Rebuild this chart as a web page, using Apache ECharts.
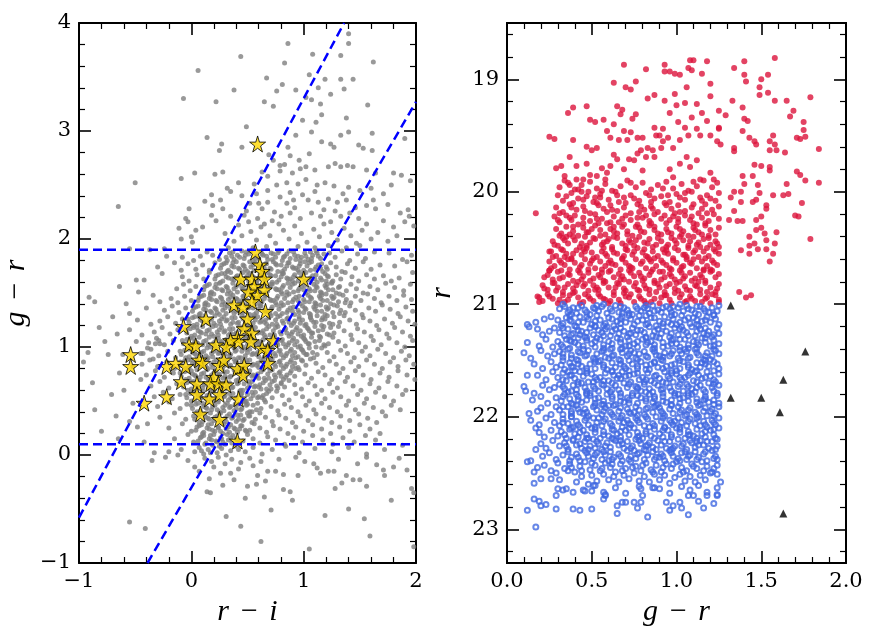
<!DOCTYPE html>
<html>
<head>
<meta charset="utf-8">
<script src="https://cdn.jsdelivr.net/npm/echarts@6/dist/echarts.min.js"></script>
<style>
  html, body { margin: 0; background: #fff; }
  #chart { width: 872px; height: 640px; }
</style>
</head>
<body>
<div id="chart"></div>
<script>
// left panel: field stars, [r-i, g-r] in hundredths
var grayPts = [
  // above the upper colour cut
  [140,390],[140,381],[86,381],[44,369],[108,371],[133,370],[162,364],[83,363],[6,356],[67,349],[119,348],[133,348],[144,348],[105,352],[81,343],[93,338],[38,338],[76,337],[113,340],[136,339],[-7,330],[22,327],[65,327],[73,323],[102,331],[107,329],[115,325],[124,334],[157,324],[116,315],[138,312],[99,310],[111,308],[49,304],[14,294],[93,296],[107,299],[116,290],[124,288],[133,296],[140,299],[161,298],[190,293],[27,288],[25,282],[45,285],[86,285],[105,279],[127,285],[149,287],[153,284],[161,282],[69,278],[73,273],[79,268],[83,269],[88,277],[96,273],[-9,256],[3,261],[-50,252],[21,260],[28,262],[63,262],[68,258],[79,263],[90,261],[97,265],[102,267],[110,264],[122,267],[128,270],[133,267],[139,268],[144,267],[156,264],[164,261],[180,261],[187,259],[195,254],[42,252],[35,244],[56,251],[68,245],[76,250],[85,252],[95,251],[102,255],[112,250],[119,252],[127,249],[140,248],[150,245],[171,242],[-65,230],[18,241],[26,236],[19,231],[28,228],[52,233],[60,233],[68,234],[79,239],[85,233],[91,236],[99,241],[104,236],[113,234],[122,237],[130,234],[138,236],[156,231],[164,228],[193,227],[194,221],[190,216],[-5,219],[-3,216],[10,211],[4,208],[-11,210],[22,217],[35,221],[47,222],[51,216],[59,219],[65,214],[72,217],[80,221],[88,224],[97,219],[107,224],[115,221],[124,216],[133,221],[141,224],[149,219],[156,214],[171,217],[180,211],[0,202],[1,197],[-9,200],[-24,191],[-37,190],[-55,191],
  [30,205],[38,198],[45,203],[53,207],[58,199],[62,211],[70,203],[75,196],[82,208],[87,200],[92,212],[98,205],[103,197],[109,209],[114,202],[118,214],[125,206],[130,199],[136,210],[142,203],[147,196],[152,208],[160,200],[166,206],[175,198],[183,203],[42,213],[55,192],[67,193],[78,214],[95,193],[110,192],[122,194],[138,192],[150,194],[33,192],[49,226],[63,228],[74,225],[92,229],[118,227],[128,226],[146,229],[162,236],[175,232],[186,224],[45,240],[58,242],[88,243],[110,244],[135,242],[160,247],[178,250],[32,247],[18,222],[12,235],[-2,228],[198,212],
  // main cloud
  [31,183],[34,187],[38,181],[41,185],[45,189],[47,182],[51,186],[55,180],[58,184],[62,188],[64,185],[68,181],[71,187],[75,183],[78,189],[81,180],[85,186],[88,182],[91,188],[95,184],[98,183],[101,187],[104,181],[108,185],[111,189],[115,182],[118,186],[2,180],[8,184],[14,188],[19,185],[25,181],[123,187],[128,183],[134,189],[141,180],[148,186],[155,182],[163,188],[-22,184],[-8,183],[176,187],[188,181],[196,185],[36,184],[49,188],[60,182],[73,186],[83,184],[93,181],[106,188],[113,184],
  [26,173],[29,177],[33,171],[36,175],[40,179],[43,172],[46,176],[50,170],[53,174],[57,178],[60,175],[63,171],[67,177],[70,173],[73,179],[77,170],[80,176],[83,172],[87,178],[90,174],[93,173],[97,177],[100,171],[103,175],[107,179],[110,172],[113,176],[117,170],[120,174],[124,178],[31,178],[38,174],[48,172],[55,176],[65,173],[75,177],[85,175],[95,171],[105,178],[115,173],[-3,177],[4,172],[10,176],[16,171],[21,178],[129,174],[134,170],[139,177],[146,173],[153,179],[160,172],[168,176],[-30,174],[-15,178],[-9,171],[181,175],[192,179],
  [21,163],[24,167],[28,161],[31,165],[35,169],[38,162],[41,166],[45,160],[48,164],[52,168],[55,165],[58,161],[62,167],[65,163],[68,169],[72,160],[75,166],[78,162],[82,168],[85,164],[88,163],[92,167],[95,161],[98,165],[102,169],[105,162],[108,166],[112,160],[115,164],[119,168],[122,165],[126,161],[129,167],[27,168],[33,164],[43,162],[50,166],[60,163],[70,167],[80,165],[90,161],[100,168],[110,163],[120,161],[-8,165],[-2,161],[5,167],[11,163],[16,169],[133,163],[137,169],[143,165],[149,161],[156,167],[163,163],[171,166],[178,161],[-42,162],[-26,168],[185,164],[197,169],
  [11,153],[14,157],[18,151],[21,155],[25,159],[28,152],[31,156],[35,150],[38,154],[42,158],[45,155],[48,151],[52,157],[55,153],[58,159],[62,150],[65,156],[68,152],[72,158],[75,154],[78,153],[82,157],[85,151],[88,155],[92,159],[95,152],[98,156],[102,150],[105,154],[109,158],[112,155],[115,151],[119,157],[122,153],[125,159],[129,150],[132,156],[16,158],[23,154],[33,152],[40,156],[50,153],[60,157],[70,155],[80,151],[90,158],[100,153],[110,152],[120,155],[-13,154],[-7,158],[-1,152],[4,156],[138,152],[142,158],[147,154],[153,150],[159,156],[166,153],[173,159],[181,155],[-64,156],[-49,162],[-47,151],[-34,148],[189,152],[195,158],
  [6,143],[9,147],[13,141],[16,145],[20,149],[23,142],[26,146],[30,140],[33,144],[37,148],[40,145],[43,141],[47,147],[50,143],[53,149],[57,140],[60,146],[63,142],[67,148],[70,144],[73,143],[77,147],[80,141],[83,145],[87,149],[90,142],[93,146],[97,140],[100,144],[104,148],[107,145],[110,141],[114,147],[117,143],[120,149],[124,140],[127,146],[131,142],[135,148],[138,144],[11,148],[18,144],[28,142],[35,146],[45,143],[55,147],[65,145],[75,141],[85,148],[95,143],[105,142],[115,145],[125,147],[-18,145],[-12,141],[-6,147],[0,143],[142,141],[146,147],[151,143],[157,149],[163,145],[169,141],[176,147],[183,143],[189,148],[-91,146],[-86,142],[-28,142],[196,144],
  [1,133],[4,137],[8,131],[11,135],[15,139],[18,132],[21,136],[25,130],[28,134],[32,138],[35,135],[38,131],[42,137],[45,133],[48,139],[52,130],[55,136],[58,132],[62,138],[65,134],[68,133],[72,137],[75,131],[78,135],[82,139],[85,132],[88,136],[92,130],[95,134],[99,138],[102,135],[105,131],[109,137],[112,133],[115,139],[119,130],[122,136],[126,132],[130,138],[133,134],[6,138],[13,134],[23,132],[30,136],[40,133],[50,137],[60,135],[70,131],[80,138],[90,133],[100,132],[110,135],[120,137],[-24,134],[-17,138],[-11,132],[-5,136],[137,132],[141,138],[146,134],[152,130],[158,136],[164,133],[170,139],[177,135],[184,131],[191,137],[-40,136],[-55,131],[197,133],
  [-2,123],[1,127],[5,121],[8,125],[12,129],[15,122],[18,126],[22,120],[25,124],[29,128],[32,125],[35,121],[39,127],[42,123],[45,129],[49,120],[52,126],[55,122],[59,128],[62,124],[65,123],[69,127],[72,121],[75,125],[79,129],[82,122],[85,126],[89,120],[92,124],[96,128],[99,125],[102,121],[106,127],[109,123],[112,129],[116,120],[119,126],[123,122],[127,128],[3,128],[10,124],[20,122],[27,126],[37,123],[47,127],[57,125],[67,121],[77,128],[87,123],[97,122],[107,125],[117,127],[-28,124],[-21,128],[-14,122],[-8,126],[132,123],[136,129],[141,125],[147,121],[153,127],[159,124],[165,120],[172,126],[179,122],[186,128],[193,124],[199,121],[-48,125],[-36,121],
  [-4,113],[-1,117],[3,111],[6,115],[10,119],[13,112],[16,116],[20,110],[23,114],[27,118],[30,115],[33,111],[37,117],[40,113],[43,119],[47,110],[50,116],[53,112],[57,118],[60,114],[63,113],[67,117],[70,111],[73,115],[77,119],[80,112],[83,116],[87,110],[90,114],[94,118],[97,115],[100,111],[104,117],[107,113],[110,119],[114,110],[117,116],[121,112],[124,118],[2,118],[8,114],[18,112],[25,116],[35,113],[45,117],[55,115],[65,111],[75,118],[85,113],[95,112],[105,115],[-33,114],[-26,118],[-19,112],[-12,116],[127,113],[131,119],[136,115],[142,111],[148,117],[154,114],[160,110],[167,116],[174,112],[181,118],[188,114],[195,110],[-55,116],[-44,111],
  [-7,103],[-4,107],[0,101],[3,105],[7,109],[10,102],[13,106],[17,100],[20,104],[24,108],[27,105],[30,101],[34,107],[37,103],[40,109],[44,100],[47,106],[50,102],[54,108],[57,104],[60,103],[64,107],[67,101],[70,105],[74,109],[77,102],[80,106],[84,100],[87,104],[91,108],[94,105],[97,101],[101,107],[104,103],[107,109],[111,100],[114,106],[118,102],[-1,108],[5,104],[15,102],[22,106],[32,103],[42,107],[52,105],[62,101],[72,108],[82,103],[92,102],[102,105],[-38,104],[-31,108],[-24,102],[-16,106],[122,103],[126,109],[131,105],[137,101],[143,107],[149,104],[155,100],[162,106],[169,102],[176,108],[183,104],[190,100],[197,106],[-49,105],[-28,103],
  [-9,93],[-6,97],[-2,91],[1,95],[5,99],[8,92],[11,96],[15,90],[18,94],[22,98],[25,95],[28,91],[32,97],[35,93],[38,99],[42,90],[45,96],[48,92],[52,98],[55,94],[58,93],[62,97],[65,91],[68,95],[72,99],[75,92],[78,96],[82,90],[85,94],[89,98],[92,95],[95,91],[99,97],[102,93],[105,99],[109,90],[-3,98],[3,94],[13,92],[20,96],[30,93],[40,97],[50,95],[60,91],[70,98],[80,93],[90,92],[100,95],[-43,94],[-36,98],[-29,92],[-21,96],[-14,90],[112,93],[116,99],[121,95],[127,91],[133,97],[139,94],[145,90],[152,96],[159,92],[166,98],[173,94],[180,90],[187,96],[194,92],
  [-9,83],[-6,87],[-2,81],[1,85],[5,89],[8,82],[11,86],[15,80],[18,84],[22,88],[25,85],[28,81],[32,87],[35,83],[38,89],[42,80],[45,86],[48,82],[52,88],[55,84],[58,83],[62,87],[65,81],[68,85],[72,89],[75,82],[78,86],[82,80],[85,84],[89,88],[92,85],[95,81],[99,87],[-3,88],[3,84],[13,82],[20,86],[30,83],[40,87],[50,85],[60,81],[70,88],[80,83],[90,82],[-44,84],[-37,88],[-30,82],[-22,86],[-15,80],[102,83],[106,89],[111,85],[117,81],[123,87],[129,84],[135,80],[142,86],[149,82],[156,88],[163,84],[170,80],[177,86],[184,82],[191,88],[198,84],
  [-9,73],[-6,77],[-2,71],[1,75],[5,79],[8,72],[11,76],[15,70],[18,74],[22,78],[25,75],[28,71],[32,77],[35,73],[38,79],[42,70],[45,76],[48,72],[52,78],[55,74],[58,73],[62,77],[65,71],[68,75],[72,79],[75,72],[78,76],[82,70],[85,74],[89,78],[-3,78],[3,74],[13,72],[20,76],[30,73],[40,77],[50,75],[60,71],[70,78],[80,73],[-40,74],[-32,78],[-24,72],[-16,76],[92,73],[96,79],[101,75],[107,71],[113,77],[119,74],[125,70],[132,76],[139,72],[146,78],[153,74],[160,70],[168,76],[176,72],[184,78],[192,74],[199,70],
  [-7,63],[-4,67],[0,61],[3,65],[7,69],[10,62],[13,66],[17,60],[20,64],[24,68],[27,65],[30,61],[34,67],[37,63],[40,69],[44,60],[47,66],[50,62],[54,68],[57,64],[60,63],[64,67],[67,61],[70,65],[74,69],[77,62],[80,66],[-1,68],[5,64],[15,62],[22,66],[32,63],[42,67],[52,65],[62,61],[72,68],[-36,64],[-28,68],[-20,62],[-13,66],[83,63],[87,69],[92,65],[98,61],[104,67],[110,64],[116,60],[123,66],[130,62],[137,68],[144,64],[151,60],[159,66],[167,62],[175,68],[183,64],[191,60],
  [-4,53],[-1,57],[3,51],[6,55],[10,59],[13,52],[16,56],[20,50],[23,54],[27,58],[30,55],[33,51],[37,57],[40,53],[43,59],[47,50],[50,56],[53,52],[57,58],[60,54],[63,53],[67,57],[2,58],[8,54],[18,52],[25,56],[35,53],[45,57],[55,55],[65,51],[-33,54],[-25,58],[-17,52],[-10,56],[72,53],[76,59],[81,55],[87,51],[93,57],[99,54],[105,50],[112,56],[119,52],[126,58],[133,54],[140,50],[148,56],[156,52],[164,58],[172,54],[180,50],[188,56],
  [1,43],[4,47],[8,41],[11,45],[15,49],[18,42],[21,46],[25,40],[28,44],[32,48],[35,45],[38,41],[42,47],[45,43],[48,49],[52,40],[55,46],[58,42],[6,48],[13,44],[23,42],[30,46],[40,43],[50,47],[-30,45],[-20,49],[-10,43],[-4,47],[62,43],[66,49],[71,45],[77,41],[83,47],[89,44],[95,40],[102,46],[109,42],[116,48],[123,44],[130,40],[138,46],[146,42],[154,48],[162,44],[170,40],[178,46],[186,42],
  [3,33],[6,37],[10,31],[13,35],[17,39],[20,32],[23,36],[27,30],[30,34],[34,38],[37,35],[40,31],[44,37],[47,33],[50,39],[54,30],[8,38],[15,34],[25,32],[32,36],[42,33],[52,36],[-28,35],[-15,39],[-5,33],[57,33],[61,39],[66,35],[72,31],[78,37],[84,34],[90,30],[97,36],[104,32],[111,38],[118,34],[125,30],[133,36],[141,32],[149,38],[157,34],[165,30],[173,36],
  [4,23],[7,27],[11,21],[14,25],[18,29],[21,22],[24,26],[28,20],[31,24],[35,28],[38,25],[41,21],[45,27],[48,23],[9,28],[16,24],[26,22],[33,26],[43,24],[-20,25],[-8,29],[0,22],[52,23],[56,29],[61,25],[67,21],[73,27],[79,24],[86,20],[93,26],[100,22],[108,28],[116,24],[124,20],[132,26],[141,22],[150,28],[159,24],[168,20],
  [6,13],[9,17],[13,11],[16,15],[20,19],[23,12],[26,16],[30,10],[33,14],[37,18],[40,15],[43,11],[11,18],[18,14],[28,12],[35,16],[-15,15],[-3,19],[2,12],[46,13],[50,19],[55,15],[61,11],[68,17],[75,14],[83,10],[91,16],[99,12],[108,18],[117,14],[126,10],[135,16],[145,12],[155,18],[164,14],
  [3,3],[7,7],[11,1],[15,5],[19,9],[23,2],[27,6],[31,0],[35,4],[39,8],[42,5],[9,4],[17,2],[25,8],[-9,5],[48,3],[55,7],[63,1],[72,5],[84,8],[96,2],[110,6],[125,3],[140,7],[156,1],[172,5],[188,9],
  // core of the cloud, second pass
  [32,180],[37,188],[43,183],[48,185],[53,189],[57,182],[63,186],[67,184],[72,181],[77,187],[82,183],[87,189],[92,185],[97,180],[102,184],[107,182],[112,187],
  [27,176],[32,170],[37,178],[42,173],[47,175],[52,179],[56,171],[61,174],[66,177],[71,172],[76,176],[81,170],[86,178],[91,173],[96,175],[101,179],[106,171],[111,174],[116,177],[121,172],
  [22,166],[26,160],[30,168],[36,163],[40,165],[46,169],[51,161],[56,164],[61,167],[66,162],[71,166],[76,160],[81,168],[86,163],[91,165],[96,169],[101,161],[106,164],[111,167],[116,162],[121,166],[125,160],
  [12,156],[17,150],[22,158],[27,153],[32,155],[37,159],[41,151],[46,154],[51,157],[56,152],[61,156],[66,150],[71,158],[76,153],[81,155],[86,159],[91,151],[96,154],[101,157],[106,152],[111,156],[116,150],[121,158],[126,153],[131,155],
  [7,146],[12,140],[17,148],[22,143],[27,145],[32,149],[36,141],[41,144],[46,147],[51,142],[56,146],[61,140],[66,148],[71,143],[76,145],[81,149],[86,141],[91,144],[96,147],[101,142],[106,146],[111,140],[116,148],[121,143],[126,145],[132,149],[137,141],
  [2,136],[7,130],[12,138],[17,133],[22,135],[27,139],[31,131],[36,134],[41,137],[46,132],[51,136],[56,130],[61,138],[66,133],[71,135],[76,139],[81,131],[86,134],[91,137],[96,132],[101,136],[106,130],[111,138],[116,133],[121,135],[127,139],[132,131],
  [-3,126],[2,120],[7,128],[11,123],[16,125],[21,129],[26,121],[31,124],[36,127],[41,122],[46,126],[51,120],[56,128],[61,123],[66,125],[71,129],[76,121],[81,124],[86,127],[91,122],[96,126],[101,120],[106,128],[111,123],[116,125],[121,129],[126,121],
  [-5,116],[0,110],[5,118],[9,113],[14,115],[19,119],[24,111],[29,114],[34,117],[39,112],[44,116],[49,110],[54,118],[59,113],[64,115],[69,119],[74,111],[79,114],[84,117],[89,112],[93,116],[98,110],[103,118],[108,113],[113,115],[118,119],[123,111],
  [-8,106],[-3,100],[2,108],[6,103],[11,105],[16,109],[21,101],[26,104],[31,107],[36,102],[41,106],[46,100],[51,108],[56,103],[61,105],[66,109],[71,101],[76,104],[81,107],[86,102],[90,106],[95,100],[100,108],[105,103],[110,105],[115,109],[119,101],
  [-10,96],[-5,90],[0,98],[4,93],[9,95],[14,99],[19,91],[24,94],[29,97],[34,92],[39,96],[44,90],[49,98],[54,93],[59,95],[64,99],[69,91],[74,94],[79,97],[84,92],[88,96],[93,90],[98,98],[103,93],[108,95],
  [-10,86],[-5,80],[0,88],[4,83],[9,85],[14,89],[19,81],[24,84],[29,87],[34,82],[39,86],[44,80],[49,88],[54,83],[59,85],[64,89],[69,81],[74,84],[79,87],[84,82],[88,86],[93,80],[98,88],
  [-10,76],[-5,70],[0,78],[4,73],[9,75],[14,79],[19,71],[24,74],[29,77],[34,72],[39,76],[44,70],[49,78],[54,73],[59,75],[64,79],[69,71],[74,74],[79,77],[84,72],[88,76],
  [-8,66],[-3,60],[2,68],[6,63],[11,65],[16,69],[21,61],[26,64],[31,67],[36,62],[41,66],[46,60],[51,68],[56,63],[61,65],[66,69],[71,61],[76,64],[80,67],
  [-5,56],[0,50],[5,58],[9,53],[14,55],[19,59],[24,51],[29,54],[34,57],[39,52],[44,56],[49,50],[54,58],[59,53],[64,55],[69,59],
  [0,46],[5,40],[10,48],[14,43],[19,45],[24,49],[29,41],[34,44],[39,47],[44,42],[49,46],[54,40],[59,48],
  [2,36],[7,30],[12,38],[16,33],[21,35],[26,39],[31,31],[36,34],[41,37],[46,32],[51,36],
  [5,26],[10,20],[15,28],[19,23],[24,25],[29,29],[34,21],[39,24],[44,27],[49,22],
  [8,16],[12,10],[17,18],[22,13],[27,15],[32,19],[36,11],[41,14],
  // below the lower colour cut
  [-55,-62],[-41,-68],[105,-87],[159,-75],[154,-59],[119,-56],[44,-66],[71,-51],[31,-57],[90,-42],[88,-34],[82,-32],[48,-40],[50,-29],[58,-27],[65,-39],[17,-35],[14,-34],[134,-26],[144,-23],[156,-29],[150,-23],[172,-19],[171,-14],[138,-19],[196,-31],[198,-35],[198,-85],[109,-8],[112,-12],[115,-17],[122,-15],[127,-15],[156,-2],[165,-9],[180,-11],[192,-14],[59,-19],[68,-15],[75,-15],[82,-18],[38,-23],[35,-17],[26,-17],[20,-11],[-3,-5],[3,-11],[7,-15],[-12,0],[-23,-2],[-20,3],[-33,2],
  [12,-3],[18,-6],[24,-2],[30,-8],[36,-4],[44,-7],[52,-3],[62,-6],[78,-4],[93,-2],[101,-6],[131,-4],[148,-8],[185,-3],[16,-22],[28,-28],[42,-13],[55,-10],[66,-24],[95,-19],[128,-31],[178,-42],[62,-80],[140,-50],
  // blue side outliers
  [-74,93],[-61,93],[-52,82],[-64,76],[-71,56],[-86,42],[-67,36],[-55,31],[-48,26],[-39,29],[-96,86],[-92,95],[-45,94],[-39,99],[-32,103],[-29,106],[-34,89],
  [-82,118],[-70,128],[-58,140],[-66,112],[-77,105],[-88,67],[-60,60],[-45,70],[-52,48],[-80,22],[-65,15],[-42,12],[-35,-5]
];

// left panel: selected candidates, [r-i, g-r]
var starPts = [
  [0.57,1.88],[0.61,1.76],[0.63,1.70],[0.44,1.63],[0.54,1.63],[0.65,1.63],[1.00,1.63],[0.56,1.56],[0.65,1.53],[0.51,1.51],
  [0.59,1.48],[0.54,1.42],[0.38,1.39],[0.46,1.37],[0.66,1.33],[0.13,1.26],[0.50,1.26],[-0.07,1.19],[0.47,1.17],[0.54,1.13],
  [0.41,1.09],[0.42,1.05],[0.35,1.06],[0.73,1.06],[-0.02,1.02],[0.04,1.01],[0.22,1.02],[0.31,1.00],[0.53,1.05],[0.63,0.99],
  [0.68,0.97],[-0.54,0.93],[-0.54,0.82],[-0.22,0.82],[-0.14,0.85],[-0.05,0.82],[0.07,0.88],[0.10,0.85],[0.25,0.83],[0.29,0.88],
  [0.41,0.80],[0.47,0.83],[0.46,0.74],[0.68,0.85],[-0.09,0.68],[0.05,0.66],[0.20,0.72],[0.17,0.66],[0.24,0.66],[0.31,0.65],
  [-0.22,0.54],[0.05,0.56],[0.16,0.52],[0.25,0.56],[0.42,0.52],[-0.42,0.48],[0.08,0.38],[0.25,0.33],[0.41,0.13],[0.59,2.88]
];

// colour-cut lines
var cutSlopeA = [[-1, -0.58], [1.36, 4]];
var cutSlopeB = [[-0.39, -1], [2, 3.27]];
var cutGrTop = 1.9;
var cutGrLow = 0.1;

// right panel: bright part, [g-r, r] in hundredths
var redPts = [
  // g-r > 1.3 group
  [134,1890],[140,1884],[140,1896],[141,1902],[150,1900],[154,1896],[158,1881],[149,1907],[149,1914],[154,1912],[158,1919],[165,1919],[179,1916],[133,1919],[139,1925],[140,1935],[142,1937],[169,1928],[167,1933],[175,1938],[175,1945],[139,1946],[143,1952],[146,1955],[147,1958],[155,1955],[157,1950],[158,1958],[159,1963],[155,1963],[164,1965],[171,1952],[173,1953],[176,1951],[184,1962],[134,1961],[134,1964],
  [146,1976],[150,1977],[155,1978],[155,1981],[139,1986],[145,1986],[171,1982],[173,1985],[176,1990],[184,1992],[165,1993],[140,1993],[148,1994],[138,2000],[134,2000],[132,2005],[149,2001],[157,2003],[163,2003],[166,2002],[138,2009],[147,2007],[145,2009],[153,2012],[153,2015],[174,2010],[134,2017],[170,2021],[172,2022],[131,2025],[136,2026],[139,2026],[150,2022],[147,2025],[150,2032],[147,2034],[152,2037],[159,2036],[143,2040],[143,2048],[146,2046],[153,2043],[158,2046],[179,2042],[138,2052],[143,2055],[148,2051],[153,2051],[157,2055],[155,2062],[137,2089],[141,2094],[144,2092],
  // upper main group
  [69,1887],[82,1891],[93,1887],[93,1893],[96,1893],[99,1895],[102,1896],[107,1890],[109,1892],[108,1883],[110,1883],[118,1884],[115,1895],[63,1903],[70,1907],[73,1909],[76,1902],[83,1917],[87,1914],[93,1919],[99,1913],[106,1907],[120,1904],[120,1915],[36,1930],[39,1925],[47,1924],[49,1936],[52,1938],[57,1936],[65,1924],[67,1931],[68,1927],[76,1931],[74,1935],[63,1940],
  [39,1954],[47,1960],[50,1963],[53,1961],[59,1946],[61,1952],[63,1967],[66,1954],[69,1946],[71,1954],[73,1947],[77,1952],[80,1952],[87,1943],[92,1944],[90,1950],[95,1952],[98,1961],[102,1954],[105,1943],[107,1950],[112,1944],[114,1950],[120,1950],[125,1943],[124,1955],[29,1979],[32,1977],[37,1969],[34,1986],[41,1977],[47,1975],[49,1985],[53,1986],[59,1983],[65,1971],[69,1980],[72,1971],[77,1966],[80,1981],[82,1969],[87,1969],[91,1961],[96,1980],[98,1987],[102,1975],[106,1969],[108,1978],[112,1972],[114,1989],[120,1983],[122,1989],[126,1958],[118,1937],[115,1930],[125,1928],[129,1932],[125,1944],[101,1938],[96,1930],[100,1923],[105,1921],[112,1922],[109,1934],[88,1950],[92,1955],[83,1961],[86,1963],[79,1963],[75,1972],[61,1977],[56,1979],[58,1989],[45,1989],[41,1989],[37,1994],[42,1998],[48,2000],[52,2005],
  [17,2019],[25,1951],[28,1953],[25,2053],[25,2070],[22,2076],[19,2094],
  // dense lower main group
  [31,1996],[36,1992],[40,1998],[44,1994],[49,1991],[53,1997],[58,1993],[62,1999],[67,1995],[71,1990],[76,1996],[80,1992],[85,1998],[89,1994],[94,1991],[98,1997],[103,1993],[107,1999],[112,1995],[116,1990],[121,1996],[124,1992],[34,1990],[56,1999],[73,1992],[92,1997],[110,1991],
  [30,2003],[33,2008],[38,2001],[42,2006],[47,2004],[51,2009],[55,2002],[60,2007],[64,2000],[69,2005],[73,2003],[78,2008],[82,2001],[87,2006],[91,2004],[96,2009],[100,2002],[105,2007],[109,2000],[114,2005],[118,2003],[123,2008],[125,2001],[44,2000],[66,2009],[84,2003],[102,2005],[120,2006],
  [29,2014],[33,2018],[37,2011],[41,2016],[45,2013],[49,2019],[53,2010],[57,2015],[61,2012],[65,2017],[69,2014],[73,2019],[77,2011],[81,2016],[85,2013],[89,2018],[93,2010],[97,2015],[101,2012],[105,2017],[109,2014],[113,2019],[117,2011],[121,2016],[125,2013],[39,2010],[59,2018],[79,2013],[99,2019],[115,2015],
  [28,2022],[31,2027],[35,2021],[38,2025],[42,2029],[45,2023],[49,2026],[52,2020],[56,2024],[59,2028],[63,2022],[66,2027],[70,2021],[73,2025],[77,2029],[80,2023],[84,2026],[87,2020],[91,2024],[94,2028],[98,2022],[101,2027],[105,2021],[108,2025],[112,2029],[115,2023],[119,2026],[122,2020],[125,2024],[40,2021],[54,2028],[68,2024],[82,2021],[96,2025],[110,2028],
  [29,2033],[32,2037],[35,2031],[39,2035],[42,2039],[45,2032],[48,2036],[52,2030],[55,2034],[58,2038],[61,2033],[65,2037],[68,2031],[71,2035],[74,2039],[78,2032],[81,2036],[84,2030],[87,2034],[91,2038],[94,2033],[97,2037],[100,2031],[104,2035],[107,2039],[110,2032],[113,2036],[117,2030],[120,2034],[123,2038],[125,2032],[37,2038],[50,2033],[63,2035],[76,2031],[89,2037],[102,2033],[115,2038],
  [27,2044],[30,2048],[33,2041],[36,2046],[40,2043],[43,2049],[46,2040],[49,2045],[52,2042],[56,2047],[59,2044],[62,2049],[65,2041],[68,2046],[72,2043],[75,2048],[78,2040],[81,2045],[84,2042],[88,2047],[91,2044],[94,2049],[97,2041],[100,2046],[104,2043],[107,2048],[110,2040],[113,2045],[116,2042],[120,2047],[123,2044],[125,2049],[35,2040],[47,2048],[60,2042],[73,2045],[86,2049],[99,2043],[112,2047],
  [26,2053],[29,2057],[32,2051],[35,2055],[38,2059],[41,2052],[44,2056],[47,2050],[50,2054],[53,2058],[56,2053],[59,2057],[62,2051],[65,2055],[68,2059],[71,2052],[74,2056],[77,2050],[80,2054],[83,2058],[86,2053],[89,2057],[92,2051],[95,2055],[98,2059],[101,2052],[104,2056],[107,2050],[110,2054],[113,2058],[116,2053],[119,2057],[122,2051],[125,2055],[34,2058],[46,2053],[58,2055],[70,2051],[82,2057],[94,2052],[106,2058],[118,2050],
  [25,2062],[28,2066],[31,2061],[34,2065],[37,2069],[40,2063],[43,2067],[46,2060],[49,2064],[52,2068],[55,2062],[58,2066],[61,2061],[64,2065],[67,2069],[70,2063],[73,2067],[76,2060],[79,2064],[82,2068],[85,2062],[88,2066],[91,2061],[94,2065],[97,2069],[100,2063],[103,2067],[106,2060],[109,2064],[112,2068],[115,2062],[118,2066],[121,2061],[124,2065],[36,2060],[48,2069],[60,2063],[72,2066],[84,2060],[96,2068],[108,2063],[120,2069],
  [24,2074],[27,2078],[30,2071],[33,2076],[36,2073],[39,2079],[42,2070],[45,2075],[48,2072],[51,2077],[54,2074],[57,2079],[60,2071],[63,2076],[66,2073],[69,2078],[72,2070],[75,2075],[78,2072],[81,2077],[84,2074],[87,2079],[90,2071],[93,2076],[96,2073],[99,2078],[102,2070],[105,2075],[108,2072],[111,2077],[114,2074],[117,2079],[120,2071],[123,2076],[125,2073],[32,2070],[44,2078],[56,2072],[68,2075],[80,2079],[92,2071],[104,2077],[116,2070],
  [21,2083],[24,2087],[27,2081],[30,2085],[33,2089],[36,2082],[39,2086],[42,2080],[45,2084],[48,2088],[51,2083],[54,2087],[57,2081],[60,2085],[63,2089],[66,2082],[69,2086],[72,2080],[75,2084],[78,2088],[81,2083],[84,2087],[87,2081],[90,2085],[93,2089],[96,2082],[99,2086],[102,2080],[105,2084],[108,2088],[111,2083],[114,2087],[117,2081],[120,2085],[123,2089],[125,2082],[29,2088],[41,2083],[53,2085],[65,2081],[77,2087],[89,2082],[101,2088],[113,2080],
  [18,2093],[21,2097],[24,2091],[27,2095],[30,2099],[33,2092],[36,2096],[39,2090],[42,2094],[45,2098],[48,2093],[51,2097],[54,2091],[57,2095],[60,2099],[63,2092],[66,2096],[69,2090],[72,2094],[75,2098],[78,2093],[81,2097],[84,2091],[87,2095],[90,2099],[93,2092],[96,2096],[99,2090],[102,2094],[105,2098],[108,2093],[111,2097],[114,2091],[117,2095],[120,2099],[123,2092],[125,2096],[34,2098],[46,2091],[58,2096],[70,2093],[82,2099],[94,2092],[106,2097],[118,2094],
  // dense lower main group, second pass
  [35,2004],[45,2007],[55,2005],[65,2003],[75,2006],[85,2009],[95,2003],[105,2001],[115,2008],
  [31,2019],[38,2014],[46,2017],[54,2012],[62,2016],[70,2010],[78,2018],[86,2015],[94,2012],[102,2018],[110,2011],[118,2019],
  [30,2025],[37,2023],[45,2028],[53,2024],[61,2027],[69,2029],[77,2023],[85,2028],[93,2021],[101,2024],[109,2022],[117,2028],
  [31,2039],[39,2031],[47,2036],[55,2039],[63,2031],[71,2038],[79,2035],[87,2031],[95,2036],[103,2038],[111,2034],[119,2039],
  [28,2047],[34,2043],[39,2040],[44,2046],[51,2041],[57,2045],[63,2040],[70,2048],[76,2043],[83,2046],[89,2041],[95,2047],[102,2040],[108,2044],[114,2049],[119,2041],[124,2046],
  [27,2058],[33,2052],[39,2055],[45,2051],[51,2059],[57,2050],[63,2054],[69,2057],[75,2053],[81,2051],[87,2059],[93,2054],[99,2050],[105,2056],[111,2052],[117,2059],[123,2053],
  [26,2068],[32,2063],[38,2060],[44,2065],[50,2061],[56,2069],[62,2064],[68,2060],[74,2068],[80,2062],[86,2069],[92,2063],[98,2061],[104,2066],[110,2060],[116,2069],[122,2063],
  [25,2070],[31,2077],[37,2074],[43,2072],[49,2079],[55,2076],[61,2070],[67,2078],[73,2072],[79,2075],[85,2071],[91,2078],[97,2075],[103,2072],[109,2079],[115,2076],[121,2070],
  [22,2086],[28,2081],[34,2085],[40,2089],[46,2082],[52,2087],[58,2080],[64,2085],[70,2088],[76,2081],[82,2086],[88,2089],[94,2084],[100,2081],[106,2087],[112,2084],[118,2089],[124,2086],
  [19,2098],[25,2093],[31,2096],[37,2092],[43,2099],[49,2095],[55,2093],[61,2097],[67,2099],[73,2091],[79,2095],[85,2098],[91,2094],[97,2099],[103,2091],[109,2095],[115,2098],[121,2091],[125,2098]
];

// right panel: faint part, [g-r, r] in hundredths
var bluePts = [
  [31,2104],[34,2102],[36,2107],[39,2103],[41,2108],[44,2101],[46,2105],[49,2109],[51,2103],[54,2106],[56,2102],[59,2108],[61,2104],[64,2101],[66,2107],[69,2103],[71,2105],[74,2109],[76,2102],[79,2106],[81,2103],[84,2108],[86,2101],[89,2105],[91,2107],[94,2102],[96,2104],[99,2109],[101,2103],[104,2106],[106,2101],[109,2105],[111,2108],[114,2102],[116,2104],[119,2107],[121,2103],[124,2106],[125,2101],[38,2109],[53,2101],[68,2108],[83,2104],[98,2102],[113,2109],
  [12,2118],[17,2116],[22,2113],[26,2111],[30,2114],[33,2117],[35,2112],[38,2115],[40,2119],[43,2111],[45,2116],[48,2113],[50,2118],[53,2110],[55,2114],[58,2117],[60,2112],[63,2119],[65,2115],[68,2111],[70,2116],[73,2113],[75,2118],[78,2110],[80,2114],[83,2117],[85,2112],[88,2119],[90,2115],[93,2111],[95,2116],[98,2113],[100,2118],[103,2110],[105,2114],[108,2117],[110,2112],[113,2119],[115,2115],[118,2111],[120,2116],[123,2113],[125,2118],[37,2110],[52,2119],[67,2113],[82,2110],[97,2118],[112,2114],
  [13,2120],[18,2122],[21,2127],[25,2124],[28,2121],[31,2125],[34,2128],[36,2122],[39,2126],[41,2120],[44,2124],[46,2129],[49,2121],[51,2127],[54,2123],[56,2125],[59,2120],[61,2128],[64,2122],[66,2126],[69,2124],[71,2129],[74,2121],[76,2127],[79,2123],[81,2125],[84,2120],[86,2128],[89,2122],[91,2126],[94,2124],[96,2129],[99,2121],[101,2127],[104,2123],[106,2125],[109,2120],[111,2128],[114,2122],[116,2126],[119,2124],[121,2129],[124,2121],[125,2126],[43,2127],[58,2122],[73,2126],[88,2129],[103,2120],[118,2127],
  [12,2134],[19,2137],[23,2131],[27,2138],[30,2133],[32,2136],[35,2131],[37,2139],[40,2134],[42,2130],[45,2137],[47,2132],[50,2135],[52,2138],[55,2131],[57,2136],[60,2133],[62,2139],[65,2130],[67,2134],[70,2137],[72,2132],[75,2135],[77,2138],[80,2131],[82,2136],[85,2133],[87,2139],[90,2130],[92,2134],[95,2137],[97,2132],[100,2135],[102,2138],[105,2131],[107,2136],[110,2133],[112,2139],[115,2130],[117,2134],[120,2137],[122,2132],[125,2135],[38,2133],[53,2130],[68,2139],[83,2134],[98,2131],[113,2136],
  [10,2143],[14,2148],[20,2141],[24,2146],[28,2144],[31,2142],[33,2147],[36,2140],[38,2145],[41,2149],[43,2143],[46,2146],[48,2141],[51,2148],[53,2144],[56,2142],[58,2147],[61,2140],[63,2145],[66,2149],[68,2143],[71,2146],[73,2141],[76,2148],[78,2144],[81,2142],[83,2147],[86,2140],[88,2145],[91,2149],[93,2143],[96,2146],[98,2141],[101,2148],[103,2144],[106,2142],[108,2147],[111,2140],[113,2145],[116,2149],[118,2143],[121,2146],[123,2141],[125,2144],[45,2140],[60,2148],[75,2143],[90,2146],[105,2140],[120,2149],
  [16,2153],[21,2157],[26,2151],[29,2156],[32,2154],[34,2158],[37,2152],[39,2156],[42,2150],[44,2155],[47,2159],[49,2153],[52,2157],[54,2151],[57,2154],[59,2158],[62,2152],[64,2156],[67,2150],[69,2155],[72,2159],[74,2153],[77,2157],[79,2151],[82,2154],[84,2158],[87,2152],[89,2156],[92,2150],[94,2155],[97,2159],[99,2153],[102,2157],[104,2151],[107,2154],[109,2158],[112,2152],[114,2156],[117,2150],[119,2155],[122,2159],[124,2153],[125,2157],[40,2159],[55,2150],[70,2157],[85,2153],[100,2159],[115,2152],
  [12,2163],[18,2163],[23,2167],[27,2160],[30,2165],[33,2161],[35,2168],[38,2163],[40,2166],[43,2160],[45,2164],[48,2169],[50,2162],[53,2167],[55,2165],[58,2161],[60,2168],[63,2163],[65,2166],[68,2160],[70,2164],[73,2169],[75,2162],[78,2167],[80,2165],[83,2161],[85,2168],[88,2163],[90,2166],[93,2160],[95,2164],[98,2169],[100,2162],[103,2167],[105,2165],[108,2161],[110,2168],[113,2163],[115,2166],[118,2160],[120,2164],[123,2169],[125,2162],[36,2160],[51,2169],[66,2163],[81,2169],[96,2166],[111,2160],
  [10,2173],[11,2177],[16,2179],[21,2172],[25,2176],[28,2174],[31,2171],[34,2175],[36,2178],[39,2172],[41,2176],[44,2170],[46,2174],[49,2179],[51,2173],[54,2177],[56,2171],[59,2175],[61,2178],[64,2172],[66,2176],[69,2170],[71,2174],[74,2179],[76,2173],[79,2177],[81,2171],[84,2175],[86,2178],[89,2172],[91,2176],[94,2170],[96,2174],[99,2179],[101,2173],[104,2177],[106,2171],[109,2175],[111,2178],[114,2172],[116,2176],[119,2170],[121,2174],[124,2179],[125,2172],[47,2177],[62,2170],[77,2175],[92,2179],[107,2173],[122,2177],
  [15,2185],[20,2182],[24,2188],[29,2183],[32,2186],[34,2180],[37,2184],[39,2189],[42,2182],[44,2187],[47,2185],[49,2181],[52,2188],[54,2183],[57,2186],[59,2180],[62,2184],[64,2189],[67,2182],[69,2187],[72,2185],[74,2181],[77,2188],[79,2183],[82,2186],[84,2180],[87,2184],[89,2189],[92,2182],[94,2187],[97,2185],[99,2181],[102,2188],[104,2183],[107,2186],[109,2180],[112,2184],[114,2189],[117,2182],[119,2187],[122,2185],[124,2181],[125,2188],[41,2180],[56,2189],[71,2183],[86,2187],[101,2180],[116,2185],
  [13,2197],[18,2195],[20,2192],[26,2198],[29,2191],[31,2194],[33,2198],[36,2191],[38,2195],[41,2190],[43,2196],[46,2193],[48,2199],[51,2191],[53,2194],[56,2198],[58,2192],[61,2196],[63,2190],[66,2195],[68,2199],[71,2193],[73,2197],[76,2191],[78,2194],[81,2198],[83,2192],[86,2196],[88,2190],[91,2195],[93,2199],[96,2193],[98,2197],[101,2191],[103,2194],[106,2198],[108,2192],[111,2196],[113,2190],[116,2195],[118,2199],[121,2193],[123,2197],[125,2191],[45,2197],[60,2190],[75,2196],[90,2192],[105,2199],[120,2195],
  [14,2203],[19,2207],[23,2201],[28,2205],[31,2208],[33,2202],[36,2206],[38,2200],[41,2204],[43,2209],[46,2203],[48,2207],[51,2201],[53,2205],[56,2208],[58,2202],[61,2206],[63,2200],[66,2204],[68,2209],[71,2203],[73,2207],[76,2201],[78,2205],[81,2208],[83,2202],[86,2206],[88,2200],[91,2204],[93,2209],[96,2203],[98,2207],[101,2201],[103,2205],[106,2208],[108,2202],[111,2206],[113,2200],[116,2204],[118,2209],[121,2203],[123,2207],[125,2201],[39,2209],[54,2201],[69,2205],[84,2209],[99,2204],[114,2208],
  [17,2210],[19,2214],[22,2218],[26,2212],[30,2217],[32,2213],[35,2219],[37,2211],[40,2215],[42,2218],[45,2212],[47,2216],[50,2210],[52,2214],[55,2219],[57,2213],[60,2217],[62,2211],[65,2215],[67,2218],[70,2212],[72,2216],[75,2210],[77,2214],[80,2219],[82,2213],[85,2217],[87,2211],[90,2215],[92,2218],[95,2212],[97,2216],[100,2210],[102,2214],[105,2219],[107,2213],[110,2217],[112,2211],[115,2215],[117,2218],[120,2212],[122,2216],[125,2210],[48,2219],[63,2212],[78,2217],[93,2210],[108,2216],[123,2219],
  [20,2224],[23,2228],[27,2221],[31,2226],[34,2223],[36,2229],[39,2221],[41,2225],[44,2228],[46,2222],[49,2226],[51,2220],[54,2224],[56,2229],[59,2223],[61,2227],[64,2221],[66,2225],[69,2228],[71,2222],[74,2226],[76,2220],[79,2224],[81,2229],[84,2223],[86,2227],[89,2221],[91,2225],[94,2228],[96,2222],[99,2226],[101,2220],[104,2224],[106,2229],[109,2223],[111,2227],[114,2221],[116,2225],[119,2228],[121,2222],[124,2226],[124,2220],[52,2228],[67,2221],[82,2226],[97,2229],[112,2222],
  [17,2229],[21,2235],[25,2232],[29,2238],[33,2234],[36,2231],[38,2236],[41,2233],[43,2239],[46,2230],[48,2235],[51,2237],[53,2232],[56,2238],[58,2234],[61,2231],[63,2236],[66,2233],[68,2239],[71,2230],[73,2235],[76,2237],[78,2232],[81,2238],[83,2234],[86,2231],[88,2236],[91,2233],[93,2239],[96,2230],[98,2235],[101,2237],[103,2232],[106,2238],[108,2234],[111,2231],[113,2236],[116,2233],[118,2239],[121,2230],[123,2235],[124,2238],[60,2239],[75,2230],[90,2236],[105,2231],
  [12,2240],[14,2239],[16,2249],[18,2245],[22,2243],[26,2248],[30,2241],[34,2246],[37,2242],[40,2249],[43,2244],[46,2240],[49,2247],[52,2243],[55,2248],[58,2241],[61,2245],[64,2249],[67,2242],[70,2246],[73,2240],[76,2244],[79,2248],[82,2241],[85,2247],[88,2243],[91,2249],[94,2242],[97,2246],[100,2240],[103,2245],[106,2248],[109,2242],[112,2246],[115,2240],[118,2244],[121,2249],[124,2243],
  [16,2259],[20,2255],[26,2255],[29,2250],[31,2256],[36,2248],[41,2258],[44,2253],[48,2260],[50,2252],[53,2257],[57,2251],[60,2256],[63,2253],[66,2258],[69,2252],[72,2255],[75,2250],[78,2257],[81,2253],[84,2258],[87,2251],[90,2256],[93,2252],[96,2259],[99,2254],[102,2251],[105,2257],[108,2253],[111,2258],[114,2252],[117,2256],[120,2250],[124,2251],[126,2258],
  [35,2264],[33,2265],[46,2266],[51,2261],[57,2267],[64,2263],[70,2268],[78,2262],[79,2264],[86,2263],[90,2264],[96,2268],[103,2262],[108,2265],[113,2261],[118,2267],[124,2263],[124,2269],[58,2269],
  [39,2267],[45,2265],[50,2266],[52,2261],[58,2270],[57,2273],[65,2279],[65,2286],[68,2276],[70,2276],[75,2276],[77,2281],[79,2276],[80,2270],[83,2289],[87,2263],[94,2276],[96,2283],[98,2279],[102,2276],[103,2281],[107,2287],[107,2270],[110,2270],[113,2275],[116,2281],[118,2270],[122,2277],[124,2270],
  [16,2273],[19,2275],[20,2279],[23,2278],[12,2283],[29,2282],[17,2298],[29,2270],[30,2264],[39,2282],[43,2283],[50,2282],
  // core, second pass
  [33,2100],[37,2105],[42,2103],[47,2107],[52,2104],[57,2100],[62,2106],[67,2102],[72,2108],[77,2104],[82,2101],[87,2106],[92,2103],[97,2107],[102,2100],[107,2104],[112,2102],[117,2106],[122,2109],
  [32,2119],[37,2114],[42,2116],[47,2111],[52,2115],[57,2119],[62,2113],[67,2117],[72,2110],[77,2115],[82,2118],[87,2112],[92,2117],[97,2110],[102,2116],[107,2112],[112,2118],[117,2114],[122,2110],
  [33,2121],[38,2127],[42,2123],[47,2125],[52,2120],[57,2128],[62,2124],[67,2121],[72,2126],[77,2123],[82,2129],[87,2124],[92,2120],[97,2126],[102,2122],[107,2128],[112,2124],[117,2121],[122,2127],
  [33,2138],[37,2132],[42,2136],[47,2130],[52,2133],[57,2139],[62,2135],[67,2131],[72,2137],[77,2133],[82,2130],[87,2136],[92,2138],[97,2135],[102,2131],[107,2139],[112,2134],[117,2130],[122,2137],
  [33,2144],[38,2148],[42,2142],[47,2145],[52,2149],[57,2141],[62,2146],[67,2140],[72,2144],[77,2149],[82,2146],[87,2142],[92,2147],[97,2144],[102,2141],[107,2148],[112,2143],[117,2146],[122,2140],
  [33,2150],[38,2155],[42,2153],[47,2157],[52,2151],[57,2156],[62,2159],[67,2153],[72,2150],[77,2155],[82,2158],[87,2151],[92,2157],[97,2154],[102,2150],[107,2156],[112,2159],[117,2153],[122,2151],
  [33,2167],[37,2163],[42,2169],[47,2161],[52,2165],[57,2168],[62,2160],[67,2166],[72,2163],[77,2161],[82,2167],[87,2164],[92,2169],[97,2161],[102,2165],[107,2163],[112,2169],[117,2165],[122,2167],
  [33,2173],[38,2177],[42,2171],[47,2179],[52,2175],[57,2172],[62,2176],[67,2179],[72,2171],[77,2174],[82,2178],[87,2170],[92,2175],[97,2177],[102,2171],[107,2179],[112,2174],[117,2178],[122,2171],
  [33,2182],[38,2188],[42,2185],[47,2180],[52,2184],[57,2189],[62,2182],[67,2186],[72,2188],[77,2181],[82,2184],[87,2182],[92,2186],[97,2189],[102,2184],[107,2181],[112,2187],[117,2184],[122,2189],
  [33,2191],[38,2197],[42,2193],[47,2196],[52,2190],[57,2195],[62,2198],[67,2192],[72,2196],[77,2199],[82,2193],[87,2191],[92,2197],[97,2190],[102,2196],[107,2194],[112,2198],[117,2192],[122,2199],
  [33,2205],[38,2200],[42,2207],[47,2201],[52,2209],[57,2204],[62,2208],[67,2201],[72,2206],[77,2203],[82,2200],[87,2208],[92,2201],[97,2205],[102,2209],[107,2204],[112,2201],[117,2207],[122,2205],
  [34,2216],[38,2210],[43,2214],[47,2219],[52,2211],[57,2216],[62,2219],[67,2213],[72,2210],[77,2218],[82,2215],[87,2219],[92,2212],[97,2218],[102,2211],[107,2216],[112,2219],[117,2213],[122,2211],
  [35,2226],[39,2220],[43,2224],[48,2229],[53,2222],[58,2226],[63,2220],[68,2224],[73,2228],[78,2221],[83,2225],[88,2229],[93,2222],[98,2228],[103,2226],[108,2221],[113,2225],[118,2222],[123,2229],
  [37,2239],[42,2236],[47,2232],[52,2234],[57,2231],[62,2238],[67,2235],[72,2238],[77,2233],[82,2230],[87,2238],[92,2235],[97,2232],[102,2239],[107,2235],[112,2238],[117,2231],[122,2237],
  [38,2245],[44,2248],[50,2241],[56,2246],[62,2242],[68,2248],[74,2245],[80,2243],[86,2249],[92,2245],[98,2242],[104,2249],[110,2244],[116,2248],[122,2246]
];

// right panel: other objects, [g-r, r]
var triPts = [[1.32,21.01],[1.76,21.42],[1.63,21.67],[1.32,21.83],[1.50,21.83],[1.61,21.96],[1.63,22.86]];

var rMajor = [19, 20, 21, 22, 23];
var rMinor = [18.6, 18.8, 19.2, 19.4, 19.6, 19.8, 20.2, 20.4, 20.6, 20.8, 21.2, 21.4, 21.6, 21.8,
              22.2, 22.4, 22.6, 22.8, 23.2];

function hund(arr) {
    return arr.map(function (p) { return [p[0] / 100, p[1] / 100]; });
}

function minusFmt(v) {
    return String(v).replace('-', '\u2212');
}

var nameStyle = { fontFamily: 'Liberation Serif', fontStyle: 'italic', fontSize: 30, color: '#000' };

function frameAxis(o) {
    return {
        type: 'value',
        gridIndex: o.grid,
        position: o.pos,
        min: o.min,
        max: o.max,
        interval: o.interval,
        inverse: !!o.inverse,
        name: o.name || '',
        nameLocation: 'middle',
        nameGap: o.nameGap || 0,
        nameTextStyle: nameStyle,
        axisLine: { show: true, onZero: false, lineStyle: { color: '#000', width: 2 } },
        axisTick: {
            show: true, inside: true, length: o.tickLen || 12,
            lineStyle: { color: '#000', width: o.tickLen ? 1.2 : 1.6 },
            customValues: o.ticks
        },
        minorTick: {
            show: !o.ticks, splitNumber: 5, length: 6,
            lineStyle: { color: '#000', width: 1.2 }
        },
        axisLabel: {
            show: !!o.labels,
            customValues: o.labels ? o.ticks : undefined,
            formatter: o.fmt || minusFmt,
            fontFamily: 'DejaVu Serif',
            fontSize: 21,
            color: '#000',
            margin: 8
        },
        splitLine: { show: false },
        minorSplitLine: { show: false }
    };
}

var chart = echarts.init(document.getElementById('chart'));

var dashed = { color: '#0000ff', width: 2.5, type: [9, 5] };
var starPath = 'path://M50,0 L61,35 L98,35 L68,57 L79,91 L50,70 L21,91 L32,57 L2,35 L39,35 Z';

var option = {
    animation: false,
    backgroundColor: '#fff',
    grid: [
        { left: 78, top: 23, width: 338, height: 540 },
        { left: 507, top: 23, width: 339, height: 540 }
    ],
    xAxis: [
        frameAxis({ grid: 0, pos: 'bottom', min: -1, max: 2, interval: 1, labels: true, name: 'r\u2004\u2212\u2004i', nameGap: 34 }),
        frameAxis({ grid: 0, pos: 'top', min: -1, max: 2, interval: 1 }),
        frameAxis({ grid: 1, pos: 'bottom', min: 0, max: 2, interval: 0.5, labels: true,
            fmt: function (v) { return v.toFixed(1); }, name: 'g\u2004\u2212\u2004r', nameGap: 34 }),
        frameAxis({ grid: 1, pos: 'top', min: 0, max: 2, interval: 0.5 })
    ],
    yAxis: [
        frameAxis({ grid: 0, pos: 'left', min: -1, max: 4, interval: 1, labels: true, name: 'g\u2004\u2212\u2004r', nameGap: 48 }),
        frameAxis({ grid: 0, pos: 'right', min: -1, max: 4, interval: 1 }),
        frameAxis({ grid: 1, pos: 'left', min: 18.5, max: 23.3, inverse: true, ticks: rMajor, labels: true,
            fmt: function (v) { return String(v); }, name: 'r', nameGap: 50 }),
        frameAxis({ grid: 1, pos: 'left', min: 18.5, max: 23.3, inverse: true, ticks: rMinor, tickLen: 6 }),
        frameAxis({ grid: 1, pos: 'right', min: 18.5, max: 23.3, inverse: true, ticks: rMajor }),
        frameAxis({ grid: 1, pos: 'right', min: 18.5, max: 23.3, inverse: true, ticks: rMinor, tickLen: 6 })
    ],
    series: [
        {
            type: 'scatter', xAxisIndex: 0, yAxisIndex: 0, silent: true,
            data: hund(grayPts), symbolSize: 5,
            itemStyle: { color: '#808080' }
        },
        {
            type: 'line', xAxisIndex: 0, yAxisIndex: 0, silent: true, symbol: 'none',
            data: cutSlopeA, lineStyle: dashed
        },
        {
            type: 'line', xAxisIndex: 0, yAxisIndex: 0, silent: true, symbol: 'none',
            data: cutSlopeB, lineStyle: dashed
        },
        {
            type: 'line', xAxisIndex: 0, yAxisIndex: 0, silent: true, symbol: 'none',
            data: [[-1, cutGrTop], [2, cutGrTop]], lineStyle: dashed
        },
        {
            type: 'line', xAxisIndex: 0, yAxisIndex: 0, silent: true, symbol: 'none',
            data: [[-1, cutGrLow], [2, cutGrLow]], lineStyle: dashed
        },
        {
            type: 'scatter', xAxisIndex: 0, yAxisIndex: 0, silent: true,
            data: starPts, symbol: starPath, symbolSize: 16,
            itemStyle: { color: '#ffd700', borderColor: '#000', borderWidth: 1 }
        },
        {
            type: 'scatter', xAxisIndex: 2, yAxisIndex: 2, silent: true,
            data: hund(redPts), symbolSize: 6,
            itemStyle: { color: '#dc143c' }
        },
        {
            type: 'scatter', xAxisIndex: 2, yAxisIndex: 2, silent: true,
            data: hund(bluePts), symbolSize: 5,
            itemStyle: { color: 'rgba(0,0,0,0)', borderColor: '#4169e1', borderWidth: 2 }
        },
        {
            type: 'scatter', xAxisIndex: 2, yAxisIndex: 2, silent: true,
            data: triPts, symbol: 'triangle', symbolSize: 8,
            itemStyle: { color: '#000' }
        }
    ]
};

chart.setOption(option);
</script>
</body>
</html>
